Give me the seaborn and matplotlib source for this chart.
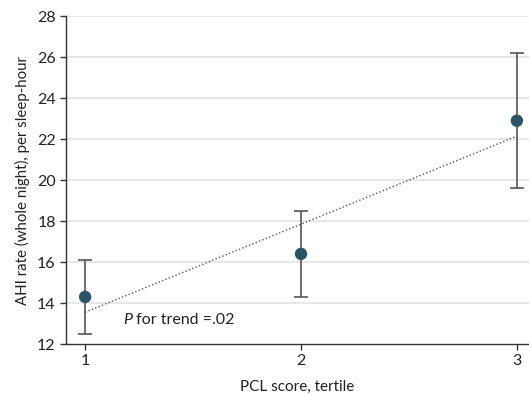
import numpy as np
import pandas as pd
import matplotlib.pyplot as plt
import seaborn as sns

plt.switch_backend('Agg')

# Data
tertile = [1, 2, 3]
ahi_mean = [14.3, 16.4, 22.9]
ci_low = [12.5, 14.3, 19.6]
ci_high = [16.1, 18.5, 26.2]
trend_x = [1, 3]
trend_y = [13.55, 22.15]

df = pd.DataFrame({'tertile': tertile, 'ahi': ahi_mean, 'lo': ci_low, 'hi': ci_high})
trend = pd.DataFrame({'x': trend_x, 'y': trend_y})

sns.set_style('white')
plt.rcParams['font.family'] = ['Lato', 'DejaVu Sans']

fig = plt.figure(figsize=(5.29, 3.95), dpi=100)
ax = fig.add_axes([0.125, 0.129, 0.875, 0.83])

# grid
for v in range(14, 29, 2):
    ax.axhline(v, color='#e3e3e3', lw=1.2, zorder=0)

# trend line
sns.lineplot(data=trend, x='x', y='y', ax=ax, color='#555555', lw=1,
             linestyle=(0, (1, 1.6)), zorder=2)

# error bars
yerr = [df['ahi'] - df['lo'], df['hi'] - df['ahi']]
ax.errorbar(df['tertile'], df['ahi'], yerr=yerr, fmt='none', ecolor='#555555',
            elinewidth=1.2, capsize=4.7, capthick=1.2, zorder=3)

sns.scatterplot(data=df, x='tertile', y='ahi', ax=ax, color='#2b5567', s=80,
                edgecolor='none', zorder=4)

ptxt = ax.text(1.176, 13.0, 'P', style='italic', fontsize=11.5, color='#222222')
ax.annotate(' for trend =.02', xy=(1, 0), xycoords=ptxt, va='bottom',
            fontsize=11.5, color='#222222')

ax.set_xlim(0.912, 3.056)
ax.set_ylim(12, 28)
ax.set_xticks([1, 2, 3])
ax.set_yticks(range(12, 29, 2))
ax.tick_params(axis='both', length=4, width=1, color='#333333', labelsize=11.5,
               labelcolor='#222222', bottom=True, left=True)
ax.set_xlabel('PCL score, tertile', fontsize=11, color='#222222', labelpad=8)
ax.set_ylabel('AHI rate (whole night), per sleep-hour', fontsize=10.8, color='#222222',
              labelpad=5)

sns.despine(ax=ax)
for s in ['left', 'bottom']:
    ax.spines[s].set_color('#333333')
    ax.spines[s].set_linewidth(1)

plt.savefig('out.png', dpi=100)
plt.close()
